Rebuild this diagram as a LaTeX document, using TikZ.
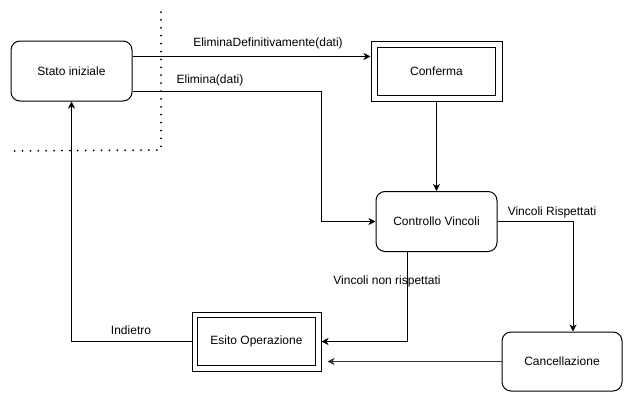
\documentclass[tikz,border=0pt]{standalone}
\usepackage{fontspec}
\setmainfont{Liberation Sans}
\usetikzlibrary{arrows.meta,calc}
\begin{document}
\begin{tikzpicture}[x=1pt,y=-1pt,
  every node/.style={font=\fontsize{12}{14}\selectfont},
  rbox/.style={draw,line width=1pt,rounded corners=9pt,minimum width=121pt,minimum height=60pt,inner sep=0pt},
  obox/.style={draw,line width=1pt,inner sep=0pt},
  ibox/.style={draw,line width=1pt,minimum width=118pt,minimum height=48pt,inner sep=0pt},
  arr/.style={line width=1pt,-{Stealth[length=7pt,width=7pt,inset=2pt]}},
  lbl/.style={inner sep=0pt},
  dotline/.style={line width=2pt,line cap=round,dash pattern=on 0pt off 7.9pt}]
\useasboundingbox (0,0) rectangle (632,402);
% dotted boundary
\draw[dotline] (161,12) -- (161,150) -- (12,151);
% nodes
\node[rbox] (stato) at (71.5,71) {Stato iniziale};
\node[obox,minimum width=131pt,minimum height=60pt] (confo) at (436.5,71.5) {};
\node[ibox] (conf) at (436.5,71.5) {Conferma};
\node[rbox] (ctrl) at (436.5,221.5) {Controllo Vincoli};
\node[rbox,minimum width=120pt,minimum height=59pt] (canc) at (562,361.5) {Cancellazione};
\node[obox,minimum width=129pt,minimum height=59pt] (esitoo) at (256.5,341.5) {};
\node[ibox] (esito) at (256.5,341.5) {Esito Operazione};
\coordinate (k1) at (321,221.5);
% connectors
\draw[arr] ([yshift=14.5pt]stato.east) -- ([yshift=14.5pt]stato.east -| confo.west);
\draw[arr] ([yshift=-20pt]stato.east) -| (k1) -- (ctrl.west);
\draw[arr] (confo.south) -- (ctrl.north);
\draw[arr] (ctrl.east) -| ([xshift=11pt]canc.north);
\draw[arr] ([xshift=-29.5pt]ctrl.south) |- (esitoo.east);
\draw[arr,black!80,shorten >=6pt] (canc.west) -- (canc.west -| esitoo.east);
\draw[arr] (esitoo.west) -| (stato.south);
% labels
\node[lbl] (l1) at (268,43) {EliminaDefinitivamente(dati)};
\node[lbl] (l2) at (210,80.5) {Elimina(dati)};
\node[lbl] (l3) at (552,212) {Vincoli Rispettati};
\node[lbl] (l4) at (387,281.5) {Vincoli non rispettati};
\node[lbl] (l5) at (131,330.5) {Indietro};
\end{tikzpicture}
\end{document}
